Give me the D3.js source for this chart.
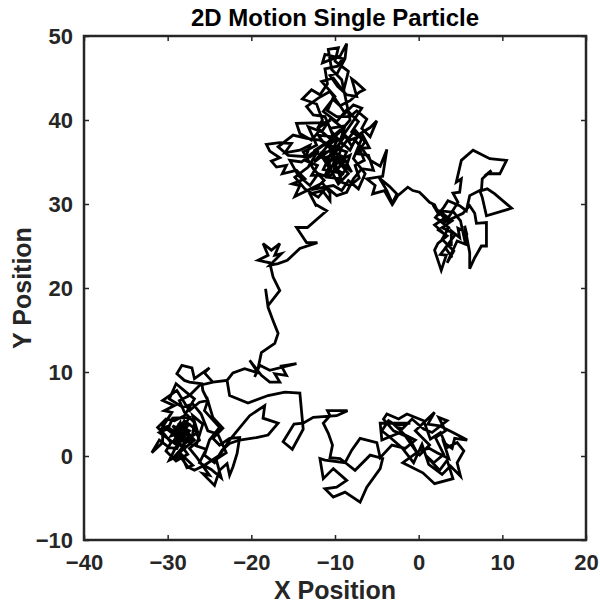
<!DOCTYPE html>
<html lang="en">
<head>
<meta charset="UTF-8">
<title>2D Motion Single Particle</title>
<script src="https://cdn.jsdelivr.net/npm/d3@7"></script>
<style>
  body { margin: 0; background: #fff; }
  svg text { font-family: "Liberation Sans", Arial, Helvetica, sans-serif; font-weight: bold; }
</style>
</head>
<body>
<div id="chart"></div>
<script>
// axis setup
const xDomain = [-40, 20];
const yDomain = [-10, 50];
const xTicks = [-40, -30, -20, -10, 0, 10, 20];
const yTicks = [-10, 0, 10, 20, 30, 40, 50];

// walk (x, y)
const lowerMiddle = [
  [0.0,0.0],[1.3,1.3],[-0.4,3.0],[1.9,5.2],[1.1,3.8],[2.5,3.6],[4.1,2.8],[5.8,1.9],[4.3,2.1],[4.0,0.9],
  [3.0,1.6],[3.6,-0.3],[2.2,0.4],[1.3,0.9],[0.2,0.7],[-1.9,-0.8],[0.5,-2.0],[1.9,-3.3],[4.1,-2.7],[3.4,-0.5],
  [2.5,-1.7],[0.8,0.1],[1.8,-0.8],[3.0,0.2],[2.0,2.2],[3.2,3.0],[2.4,4.6],[3.4,4.2],[1.6,2.8],[0.6,3.2],
  [-0.8,4.4],[-2.0,3.2],[-3.6,4.2],[-4.4,3.0],[-3.4,2.2],[-2.0,1.0],[-0.6,-0.8],[0.4,1.4]
];

const lowerCore = [
  [1.2,-1.0],[2.8,-2.2],[3.8,-1.2],[5.0,-2.4],[4.6,-0.8],[5.4,0.6],[4.6,1.6],[3.4,1.0],[2.6,2.8],[1.4,2.0],
  [0.6,4.2],[-1.4,5.0],[-2.4,4.4],[-3.8,5.0],[-4.2,4.4],[-3.0,3.0],[-1.6,2.4],[-0.2,0.4]
];

const lowerWest = [
  [-1.0,1.9],[-2.8,3.6],[-1.0,3.9],[-3.1,3.9],[-4.6,3.9],[-4.4,1.9],[-2.2,2.8],[-0.4,1.9],
  [-1.6,0.9],[-3.2,1.3],[-4.6,-0.2],[-5.0,1.6],[-7.0,2.1],[-8.0,0.7],[-8.8,-0.8],[-11.2,-0.5],[-11.8,-0.3],[-11.4,-2.7],
  [-10.2,-1.5],[-8.6,-2.9],[-9.8,-3.7],[-11.2,-3.9],[-10.2,-4.9],[-8.8,-4.3],[-7.0,-5.5],[-6.2,-3.7],[-4.6,-1.5],[-4.3,-0.3],
  [-5.8,0.1],[-7.6,-1.7],[-9.4,-0.3],[-10.6,-0.2],[-10.3,1.3],[-10.8,2.7],[-11.4,3.9],[-10.6,4.8],[-10.9,5.4],[-8.5,5.4],
  [-9.8,4.8],[-12.6,4.6],[-13.8,3.9]
];

const toLeft = [
  [-14.9,3.8],[-16.2,1.7],[-15.1,0.8],[-13.8,3.2],[-14.2,7.5],[-16.0,7.6],[-18.0,7.2],[-20.4,6.3],[-22.6,7.2],[-22.9,9.0],
  [-24.6,8.8]
];

const leftCluster = [
  [-25.6,9.9],[-25.0,10.5],[-26.8,9.2],[-27.1,10.5],[-28.3,10.8],[-28.9,9.8],[-28.0,9.0],[-27.4,8.8],[-25.9,8.6],[-25.8,7.8],
  [-25.2,6.6],[-26.2,6.4],[-27.4,5.4],[-28.9,7.8],[-30.6,6.6],[-29.2,6.0],[-30.4,5.4],[-29.5,5.2],[-30.7,3.3],[-29.8,3.6],
  [-29.4,4.5],[-27.4,4.6],[-28.2,3.3],[-29.2,2.5],[-30.6,3.6],[-30.6,1.6],[-31.9,0.4],[-31.0,1.9],[-29.8,1.0],[-28.9,0.9],
  [-28.2,2.2],[-27.4,3.0],[-28.6,3.6],[-28.0,1.3],[-29.4,-0.3],[-28.2,-0.3],[-27.7,-1.4],[-27.0,-1.1],[-28.6,0.4],[-26.8,1.9],
  [-27.6,2.8],[-28.8,3.0],[-28.0,4.2],[-26.8,3.3],[-26.2,1.9],[-27.4,0.9],[-26.5,-0.2],[-25.0,-2.3],[-25.8,-2.1],[-24.4,-3.5],
  [-23.8,-1.7],[-22.9,-0.9],[-22.6,-2.3],[-22.2,-1.3],[-21.7,0.3],[-21.4,2.2],[-22.6,2.1],[-23.8,1.3],[-24.6,2.1],[-23.4,3.3],
  [-24.6,4.6],[-25.2,6.6],[-25.6,5.4],[-23.8,3.4],[-25.0,1.9],[-25.6,0.1],[-24.4,-0.8],[-23.5,0.7],[-22.6,1.5],[-21.4,1.9],
  [-19.4,2.2],[-18.0,2.5],[-16.8,3.9],[-18.6,4.5],[-18.4,6.0],[-20.2,4.8],[-21.7,3.0],[-22.6,1.9],[-23.8,0.1],[-25.6,-1.1],
  [-26.8,-1.7],[-27.6,-1.3],[-28.6,0.1],[-29.8,-0.5],[-28.9,1.3],[-30.0,2.1],[-31.0,2.8],[-29.8,3.3],[-28.6,2.5],[-27.8,3.3],
  [-28.3,1.9],[-29.2,1.6],[-27.4,2.2],[-28.8,2.0],[-27.6,3.6],[-29.0,3.2],[-27.9,1.5],[-28.5,4.0],[-29.6,2.4],[-28.0,2.9],
  [-27.2,2.0],[-28.4,1.2],[-29.2,1.9],[-28.1,3.8],[-27.5,2.6],[-29.4,3.6],[-28.7,2.6],[-27.8,1.9]
];

const leftCore = [
  [-26.4,2.8],[-27.0,4.8],[-25.8,3.8],[-26.6,1.2],[-25.4,0.8],[-26.2,-0.8],[-24.8,-1.6],[-23.6,-2.6],[-24.2,-0.4],[-23.0,0.4],
  [-24.0,2.6],[-25.2,3.0],[-26.0,5.0],[-27.0,6.2],[-28.2,5.8],[-29.8,6.8],[-29.0,8.6],[-27.8,7.6],[-26.8,6.8],[-28.0,4.8],
  [-29.2,4.2],[-30.2,4.4],[-31.2,3.4],[-30.4,2.6],[-29.6,1.6],[-30.2,0.6],[-29.0,-0.6],[-27.6,0.2],[-28.6,1.6],[-29.4,2.8],
  [-28.2,2.6],[-27.2,1.4],[-26.8,4.0],[-28.0,5.2],[-28.6,6.6],[-27.4,7.2],[-26.2,8.4],[-24.6,8.8],[-22.9,9.0]
];

const climb = [
  [-22.2,9.9],[-20.8,10.4],[-19.2,9.9],[-20.2,11.4],[-18.8,9.6],[-17.8,8.8],[-16.6,8.8],[-17.2,9.8],[-15.8,9.6],[-16.4,10.7],
  [-14.6,11.0],[-17.8,10.2],[-19.0,10.8],[-19.6,9.4],[-19.2,10.4],[-18.8,12.3],[-17.2,13.4],[-16.8,14.6],[-17.4,16.1],[-18.0,17.7],
  [-18.3,19.9],[-18.0,17.9],[-16.6,19.7],[-17.4,21.3],[-17.8,23.0],[-19.2,23.3],[-18.0,23.9],[-18.6,25.3],[-17.6,24.5],[-16.6,25.3],
  [-17.2,23.9],[-16.4,24.1],[-17.8,22.7],[-16.8,22.9],[-15.7,23.3],[-14.2,24.7],[-12.1,25.4],[-13.4,25.4],[-14.6,27.2],[-13.3,27.2],
  [-11.0,29.2],[-12.4,30.0]
];

const upperA = [
  [-12.2,29.7],[-13.0,31.2],[-11.5,31.6],[-10.6,30.4],[-10.6,31.3],[-11.5,32.5],[-14.8,30.9],[-14.2,32.2],[-15.1,32.4],[-13.6,33.0],
  [-14.6,34.0],[-16.3,33.6],[-15.8,34.6],[-17.0,34.4],[-17.6,35.1],[-16.6,35.5],[-17.8,36.3],[-18.2,37.1],[-16.6,37.3],[-15.2,37.2],
  [-16.0,36.1],[-14.2,36.4],[-13.0,37.0],[-13.6,35.2],[-12.1,34.6],[-12.8,33.4],[-11.2,33.4],[-10.6,34.6],[-11.6,36.1],[-10.0,36.4],
  [-9.4,35.2],[-8.2,35.8],[-8.8,34.0],[-9.7,32.8],[-8.2,32.2],[-7.1,33.1],[-7.6,34.6],[-6.5,35.2],[-7.1,36.6],[-5.9,36.7],
  [-6.7,38.2],[-8.2,37.6],[-9.4,38.8],[-10.6,37.8],[-11.8,38.8],[-12.8,37.6],[-14.2,38.4],[-14.6,39.6],[-11.0,39.7],[-12.1,39.0],
  [-11.5,40.0],[-12.2,41.9],[-13.9,42.5],[-12.8,43.6],[-11.8,43.0],[-10.9,44.3],[-11.2,46.1],[-9.7,46.4],[-9.1,47.3],[-11.2,47.8],
  [-11.5,46.8],[-9.4,47.6],[-8.6,49.1],[-8.8,47.3],[-9.7,45.6],[-10.6,45.3],[-9.7,44.0],[-8.6,43.0],[-7.4,42.8],[-8.0,44.9],
  [-7.6,44.6],[-6.5,43.6],[-7.1,43.3],[-8.2,42.3],[-9.4,41.7],[-10.3,42.5],[-10.9,41.1],[-9.8,40.4],[-8.2,40.4],[-7.4,41.1],
  [-6.2,40.1],[-6.8,39.0],[-5.8,38.0],[-5.0,39.9],[-5.8,39.1],[-7.1,38.3],[-8.0,36.9],[-8.8,38.1],[-9.7,36.9],[-10.6,36.4]
];

const upperCore = [
  [-12.5,35.0],[-11.0,36.8],[-12.0,38.2],[-10.2,38.0],[-9.0,39.0],[-10.5,40.2],[-11.6,38.6],[-13.2,39.2],[-12.2,37.0],[-13.8,36.2],
  [-12.6,34.2],[-11.3,32.8],[-12.4,31.8],[-10.2,32.2],[-9.2,31.6],[-8.4,32.8],[-7.2,31.8],[-6.4,33.6],[-7.8,35.4],[-6.8,37.8],
  [-8.0,38.6],[-7.2,39.8],[-8.6,41.2],[-9.8,39.8],[-11.4,41.0],[-10.0,42.8],[-11.6,44.6],[-10.2,45.0],[-9.0,43.4],[-8.4,45.8],
  [-10.0,47.0],[-9.6,48.6],[-10.8,48.4],[-10.4,46.0],[-9.2,44.8],[-8.2,40.0],[-9.6,38.4],[-10.8,37.4],[-12.8,36.0],[-14.0,35.0],
  [-15.4,35.2],[-14.4,33.4],[-13.0,32.2],[-12.0,33.6],[-10.8,33.2],[-9.6,34.2],[-8.6,36.2],[-9.8,36.6]
];

const upperCore2 = [
  [-11.8,37.6],[-13.4,37.8],[-15.0,38.2],[-16.8,36.8],[-15.6,35.8],[-13.0,35.6],[-12.0,36.4],[-13.2,34.4],[-14.8,33.2],[-13.6,31.8],
  [-12.0,30.8],[-11.0,32.0],[-9.8,31.0],[-8.6,31.4],[-7.8,33.0],[-6.8,34.2],[-5.4,34.0],[-6.0,35.8],[-7.4,36.0],[-6.4,37.4],
  [-7.6,38.8],[-9.0,37.0],[-10.4,38.6],[-11.2,40.4],[-12.6,40.6],[-13.4,41.6],[-12.0,42.6],[-10.6,43.4],[-9.6,42.0],[-8.8,40.8],
  [-7.8,41.8],[-6.8,41.4],[-7.6,40.2],[-9.0,38.2],[-10.0,36.0],[-11.4,35.4],[-10.4,33.8],[-9.2,34.6],[-8.4,33.6],[-9.6,32.4],
  [-10.8,34.6],[-9.8,36.6]
];

const upperB = [
  [-10.8,35.6],[-9.2,36.8],[-10.1,34.2],[-8.9,33.6],[-11.4,34.1],[-9.6,37.9],[-10.9,36.9],[-8.4,34.9],[-9.9,35.4],[-11.0,33.2],
  [-9.3,33.0],[-10.4,36.0],[-8.0,33.8],[-9.0,35.6],[-9.4,35.8],[-10.3,34.6],[-8.8,35.2],[-11.2,35.2],[-12.4,36.4],[-11.2,37.2],
  [-10.0,37.5],[-10.6,39.0],[-8.8,39.3],[-9.4,37.5],[-8.2,36.4],[-7.6,37.6],[-6.7,36.5],[-5.8,35.2],[-4.6,34.5],[-3.8,36.5],
  [-4.3,33.3],[-6.2,33.0],[-5.2,32.2],[-5.5,31.2],[-4.1,31.6],[-3.2,30.0],[-2.6,31.2],[-3.5,32.1],[-4.7,33.1],[-3.8,31.6],
  [-3.1,30.0],[-2.5,31.0],[-1.3,32.0],[-0.7,31.6],[0.1,31.4],[0.5,31.0],[1.3,30.2]
];

const rightCluster = [
  [1.9,29.9],[2.5,28.6],[1.7,29.9],[3.1,28.3],[1.9,27.5],[2.9,26.6],[2.2,27.0],[3.4,26.2],[2.3,25.3],[1.9,24.5],
  [2.7,22.1],[3.3,23.9],[2.6,24.0],[3.7,25.4],[3.9,25.0],[3.9,26.8],[4.9,26.0],[4.7,27.1],[5.7,26.6],[5.5,27.4],
  [6.1,24.2],[6.1,22.3],[6.7,23.6],[7.5,25.0],[8.1,25.0],[8.1,26.5],[8.1,27.8],[6.9,27.7],[6.7,28.9],[6.1,29.8],
  [5.3,28.9],[3.0,27.8],[3.7,28.6],[4.7,30.2],[4.1,31.3],[4.9,31.4],[5.1,33.0],[4.5,32.6],[5.1,35.2],[6.5,36.4],
  [8.5,35.4],[10.5,35.2],[9.7,33.6],[8.2,33.6],[8.7,34.0],[7.6,33.0],[7.5,31.6],[8.2,31.8],[9.1,31.2],[11.1,29.5],
  [8.1,28.6],[7.6,30.8],[7.3,31.6],[6.1,31.0],[5.7,29.2],[4.9,29.8],[3.5,30.4],[3.0,29.6],[2.0,28.4],[3.6,27.2],
  [2.8,25.8],[4.2,24.4],[3.4,23.0],[4.6,25.6],[5.6,25.2],[5.0,28.0],[4.2,29.0],[2.4,29.2],[4.0,28.0],[2.8,27.2],
  [4.4,26.4],[3.2,24.8],[4.0,23.6]
];

const walk = [].concat(lowerMiddle, lowerCore, lowerWest, toLeft, leftCluster, leftCore, climb,
    upperA, upperCore, upperCore2, upperB, rightCluster);

const width = 600, height = 604;
const svg = d3.select("#chart").append("svg")
    .attr("width", width)
    .attr("height", height);

const x = d3.scaleLinear().domain(xDomain).range([84, 586]);
const y = d3.scaleLinear().domain(yDomain).range([540, 36]);

const line = d3.line().x(d => x(d[0])).y(d => y(d[1]));

svg.append("path")
    .datum(walk)
    .attr("d", line)
    .attr("fill", "none")
    .attr("stroke", "#000")
    .attr("stroke-width", 2.8)
    .attr("stroke-linejoin", "miter")
    .attr("stroke-miterlimit", 4);

function styleAxis(g) {
    g.select(".domain").remove();
    g.selectAll(".tick line").attr("stroke", "#262626").attr("stroke-width", 1.5);
    g.selectAll(".tick text").attr("fill", "#262626").attr("font-size", "22px");
}

svg.append("g")
    .attr("transform", "translate(0,540)")
    .call(d3.axisBottom(x).tickValues(xTicks).tickSize(-5).tickPadding(14))
    .call(styleAxis);

svg.append("g")
    .attr("transform", "translate(0,36)")
    .call(d3.axisTop(x).tickValues(xTicks).tickSize(-5).tickFormat(""))
    .call(styleAxis);

svg.append("g")
    .attr("transform", "translate(84,0)")
    .call(d3.axisLeft(y).tickValues(yTicks).tickSize(-5).tickPadding(11))
    .call(styleAxis);

svg.append("g")
    .attr("transform", "translate(586,0)")
    .call(d3.axisRight(y).tickValues(yTicks).tickSize(-5).tickFormat(""))
    .call(styleAxis);

// axes box
svg.append("rect")
    .attr("x", 84)
    .attr("y", 36)
    .attr("width", 502)
    .attr("height", 504)
    .attr("fill", "none")
    .attr("stroke", "#262626")
    .attr("stroke-width", 2.5);

svg.append("text")
    .attr("x", 335)
    .attr("y", 26)
    .attr("text-anchor", "middle")
    .attr("font-size", "24px")
    .attr("fill", "#000")
    .text("2D Motion Single Particle");

svg.append("text")
    .attr("x", 335)
    .attr("y", 599)
    .attr("text-anchor", "middle")
    .attr("font-size", "25px")
    .attr("fill", "#262626")
    .text("X Position");

svg.append("text")
    .attr("transform", "translate(31,288) rotate(-90)")
    .attr("text-anchor", "middle")
    .attr("font-size", "25px")
    .attr("fill", "#262626")
    .text("Y Position");
</script>
</body>
</html>
